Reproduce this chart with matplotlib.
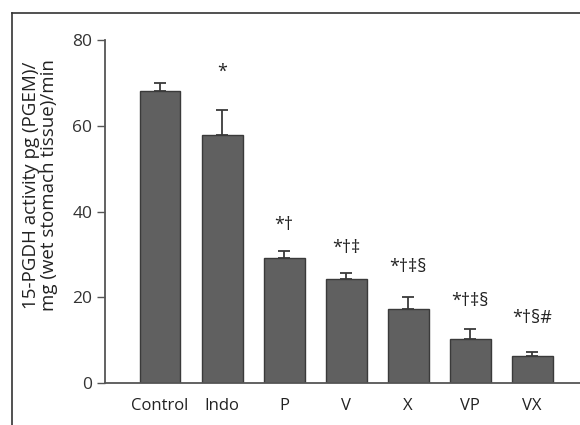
import numpy as np
import matplotlib.pyplot as plt
from matplotlib.lines import Line2D

# data
groups = ['Control', 'Indo', 'P', 'V', 'X', 'VP', 'VX']
activity = [68.1, 57.8, 29.1, 24.2, 17.2, 10.2, 6.4]
sem = [1.9, 5.8, 1.7, 1.4, 2.8, 2.3, 0.9]
signif = ['', '*', '*†', '*†‡', '*†‡§', '*†‡§', '*†§#']
sig_y = [0, 72.5, 36.8, 31.5, 27.0, 19.1, 15.2]

plt.rcParams['font.family'] = ['Open Sans', 'DejaVu Sans']

fig = plt.figure(figsize=(5.8, 4.25), dpi=100)
ax = fig.add_axes([0.181, 0.0988, 0.819, 0.807])

x = np.arange(len(groups))
ax.bar(x, activity, width=0.66, color='#606060', edgecolor='#3a3a3a', linewidth=1.0, zorder=2)
ax.errorbar(x, activity, yerr=[np.zeros(len(sem)), sem], fmt='none', ecolor='#3a3a3a',
            elinewidth=1.3, capsize=4, capthick=1.3, zorder=1)

for xi, s, yy in zip(x, signif, sig_y):
    if s:
        ax.text(xi, yy, s, ha='center', va='center', fontsize=13, color='#222222')

ax.set_xlim(-0.887, 6.77)
ax.set_ylim(0, 80)
ax.set_yticks([0, 20, 40, 60, 80])
ax.set_xticks(x)
ax.set_xticklabels(groups)
ax.tick_params(axis='x', length=0, pad=11, labelsize=12, labelcolor='#222222')
ax.tick_params(axis='y', length=6, width=1, color='#555555', pad=3, labelsize=12.5, labelcolor='#333333')
for side in ['top', 'right']:
    ax.spines[side].set_visible(False)
for side in ['left', 'bottom']:
    ax.spines[side].set_color('#555555')
    ax.spines[side].set_linewidth(1.3)

fig.text(0.069, 0.565, '15-PGDH activity pg (PGEM)/\nmg (wet stomach tissue)/min', rotation=90,
         ha='center', va='center', fontsize=13.5, color='#222222', linespacing=1.05)

# outer frame (top and left edges)
fig.add_artist(Line2D([12 / 580, 12 / 580], [0, 412 / 425], transform=fig.transFigure, color='#333333', lw=1.2))
fig.add_artist(Line2D([12 / 580, 1], [412 / 425, 412 / 425], transform=fig.transFigure, color='#333333', lw=1.2))

fig.savefig('out.png', dpi=100)
